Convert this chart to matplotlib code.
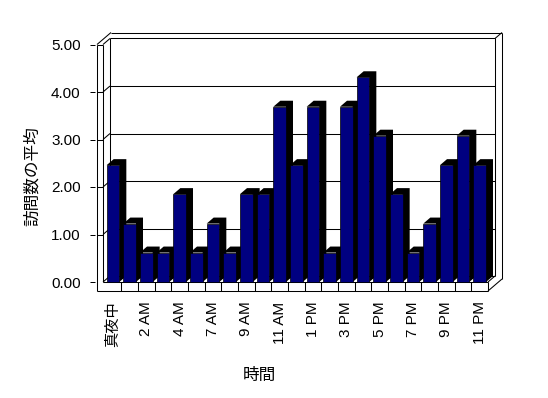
import numpy as np
import matplotlib
matplotlib.use("Agg")
import matplotlib.pyplot as plt

plt.rcParams['font.family'] = ['Liberation Sans', 'Noto Sans CJK JP']

# Data
hours = ["真夜中", "1 AM", "2 AM", "3 AM", "4 AM", "5 AM", "7 AM", "8 AM",
         "9 AM", "10 AM", "11 AM", "正午", "1 PM", "2 PM", "3 PM", "4 PM",
         "5 PM", "6 PM", "7 PM", "8 PM", "9 PM", "10 PM", "11 PM"]
visits = [2.46, 1.23, 0.62, 0.62, 1.85, 0.62, 1.23, 0.62,
          1.85, 1.85, 3.69, 2.46, 3.69, 0.62, 3.69, 4.31,
          3.08, 1.85, 0.62, 1.23, 2.46, 3.08, 2.46]
yticks = [0, 1, 2, 3, 4, 5]

W, H = 548, 398
fig = plt.figure(figsize=(W / 100, H / 100), dpi=100)
fig.patch.set_facecolor("white")

# front plane of the plot, in pixels
left, right, bottom, top = 103, 488, 282, 44.5
ax = fig.add_axes([left / W, 1 - bottom / H, (right - left) / W, (bottom - top) / H])
x0, x1 = -0.6, 22.5
ax.set_xlim(x0, x1)
ax.set_ylim(0, 5)
ax.patch.set_alpha(0)

# pixel -> data steps for the 3D look
px_x = (right - left) / (x1 - x0)
px_y = (bottom - top) / 5
DX, DY = 7 / px_x, 6 / px_y
WALL = 6 / px_x        # left wall thickness
FLOOR = 9 / px_y       # floor thickness

lc = "black"
lw = 0.75


def line(xs, ys, z=1):
    ax.plot(xs, ys, color=lc, lw=lw, clip_on=False, zorder=z, solid_capstyle="butt")


# back wall and gridlines
for v in yticks[1:]:
    line([x0 + DX, x1 + DX], [v + DY, v + DY])
    line([x0 - WALL, x0], [v, v])
    line([x0, x0 + DX], [v, v + DY])
line([x0 + DX, x1 + DX], [DY, DY])
line([x0 + DX, x0 + DX], [DY, 5 + DY])
line([x1 + DX, x1 + DX], [DY, 5 + DY])
line([x0, x0 + DX], [0, DY])

# wall thickness (outer edges)
line([x0 - WALL, x0 - WALL + 2 * DX], [5, 5 + 2 * DY])
line([x0 - WALL + 2 * DX, x1 + 2 * DX], [5 + 2 * DY, 5 + 2 * DY])
line([x1 + DX, x1 + 2 * DX], [5 + DY, 5 + 2 * DY])
line([x1 + 2 * DX, x1 + 2 * DX], [-FLOOR + 2 * DY, 5 + 2 * DY])

# left wall front face
line([x0 - WALL, x0 - WALL], [-FLOOR, 5])
line([x0, x0], [0, 5])

# floor front face
line([x0 - WALL, x1], [-FLOOR, -FLOOR])
line([x0, x1], [0, 0])
line([x1, x1], [-FLOOR, 0])
for i in range(len(hours) - 1):
    line([i + 0.5, i + 0.5], [-FLOOR, 0])
line([x1, x1 + 2 * DX], [-FLOOR, -FLOOR + 2 * DY])
line([x1, x1 + DX], [0, DY])

# bars: black depth first, navy front on top
w = 0.76
for i, v in enumerate(visits):
    l, r = i - w / 2, i + w / 2
    ax.fill([l, l + DX, r + DX, r + DX, r, r], [v, v + DY, v + DY, DY, 0, v],
            color="black", lw=0, zorder=5 + 2 * i, clip_on=False)
ax.bar(range(len(visits)), visits, width=w, color="#000080", edgecolor="black",
       linewidth=0.5, zorder=6, clip_on=False)
for k, p in enumerate(ax.patches):
    p.set_zorder(6 + 2 * k)

# axes text
for s in ax.spines.values():
    s.set_visible(False)
ax.spines['left'].set_position(('outward', 6))
ax.set_yticks(yticks)
ax.set_yticklabels([f"{v:.2f}" for v in yticks])
ax.tick_params(axis="y", length=3.6, width=0.72, pad=6.5, labelsize=11)
ax.set_xticks(range(0, len(hours), 2))
ax.set_xticklabels(hours[::2], rotation=90)
ax.tick_params(axis="x", length=0, pad=14, labelsize=11)

fig.text(32.5 / W, 1 - 176 / H, "訪問数の平均", rotation=90, ha="center", va="center", fontsize=12)
fig.text(259 / W, 1 - 375 / H, "時間", ha="center", va="center", fontsize=12)

fig.savefig("out.png", dpi=100)
